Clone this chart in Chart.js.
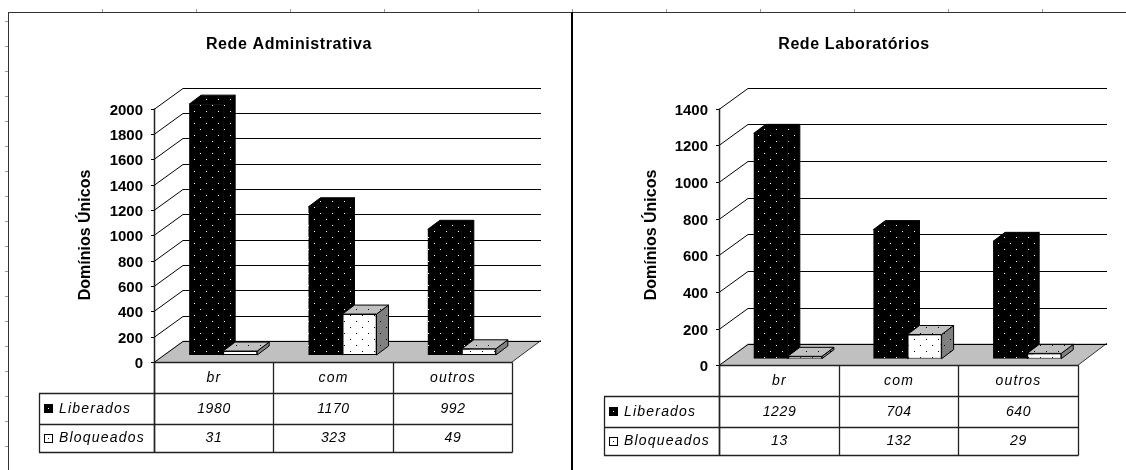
<!DOCTYPE html>
<html lang="pt">
<head>
    <meta charset="UTF-8">
    <title>Rede Administrativa / Rede Laboratórios</title>
    <style>
        body { margin: 0; padding: 0; background: #fff; }
        canvas { position: absolute; left: 0; top: 0; filter: blur(0.3px); }
    </style>
</head>
<body>
    <canvas id="adminChart" width="1126" height="470"></canvas>
    <canvas id="labChart" width="1126" height="470"></canvas>
    <script src="https://cdnjs.cloudflare.com/ajax/libs/Chart.js/4.4.1/chart.umd.min.js"></script>
    <script>
        const categories = ['br', 'com', 'outros'];
        const seriesNames = ['Liberados', 'Bloqueados'];
        const adminLiberados = [1980, 1170, 992];
        const adminBloqueados = [31, 323, 49];
        const labLiberados = [1229, 704, 640];
        const labBloqueados = [13, 132, 29];

        const FONT = '"Liberation Sans", Arial, sans-serif';

        function dots(bg, dot) {
            const c = document.createElement('canvas');
            c.width = 12;
            c.height = 12;
            const x = c.getContext('2d');
            x.fillStyle = bg;
            x.fillRect(0, 0, 12, 12);
            x.fillStyle = dot;
            x.fillRect(2, 3, 1, 1);
            x.fillRect(8, 9, 1, 1);
            return x.createPattern(c, 'repeat');
        }

        const blackDots = dots('#000', '#fff');
        const whiteDots = dots('#fff', '#000');
        const topDots = dots('#c0c0c0', '#000');
        const sideDots = dots('#808080', '#000');

        function poly(ctx, pts, fill, stroke) {
            ctx.beginPath();
            pts.forEach((p, i) => i ? ctx.lineTo(p[0], p[1]) : ctx.moveTo(p[0], p[1]));
            ctx.closePath();
            if (fill) {
                ctx.fillStyle = fill;
                ctx.fill();
            }
            if (stroke) {
                ctx.strokeStyle = stroke;
                ctx.lineWidth = 1;
                ctx.stroke();
            }
        }

        function line(ctx, x1, y1, x2, y2, color, width) {
            ctx.strokeStyle = color || '#000';
            ctx.lineWidth = width || 1;
            ctx.beginPath();
            ctx.moveTo(x1, y1);
            ctx.lineTo(x2, y2);
            ctx.stroke();
        }

        // sheet frame behind the charts, with the stray cell marks
        const framePlugin = {
            id: 'frame',
            beforeDraw(chart) {
                const ctx = chart.ctx;
                ctx.save();
                ctx.fillStyle = '#333';
                ctx.fillRect(8, 12, 1118, 1);
                ctx.fillRect(8, 12, 1, 458);
                ctx.fillStyle = '#000';
                ctx.fillRect(571, 12, 2, 458);
                ctx.fillStyle = '#999';
                for (let x = 102; x < 1126; x += 94) ctx.fillRect(x, 9, 1, 3);
                for (let y = 21; y < 470; y += 25) ctx.fillRect(5, y, 3, 1);
                ctx.restore();
            }
        };

        // walls, floor, axis text and data table are drawn around the bar plane
        const scenePlugin = {
            id: 'scene',
            beforeDatasetsDraw(chart, args, o) {
                const ctx = chart.ctx;
                const y = chart.scales.y;
                const x0 = o.axisX, x1 = o.axisX + o.cell * 3;
                const base = y.getPixelForValue(0) + o.plane;
                ctx.save();

                // floor
                poly(ctx, [[x0, base], [x0 + o.wallX, base - o.wallY], [x1 + o.wallX, base - o.wallY], [x1, base]], '#c0c0c0');
                line(ctx, x1, base, x1 + o.wallX, base - o.wallY, '#333');

                // gridlines on both planes, with ticks and labels
                ctx.font = 'bold 15px ' + FONT;
                ctx.textAlign = 'right';
                ctx.textBaseline = 'middle';
                y.ticks.forEach(t => {
                    const ty = Math.round(y.getPixelForValue(t.value) + o.plane) + 0.5;
                    const by = Math.round(ty - o.wallY) + 0.5;
                    line(ctx, x0 - 3, ty, x0, ty);
                    line(ctx, x0, ty, x0 + o.wallX, by);
                    line(ctx, x0 + o.wallX, by, x1 + o.wallX, by);
                    ctx.fillStyle = '#000';
                    ctx.fillText(String(t.value), x0 - 11, ty + 1);
                });
                line(ctx, x0 + 0.5, y.getPixelForValue(y.max) + o.plane, x0 + 0.5, o.rows[3], '#222', 1.5);

                // top and side of each bar, back to front
                categories.forEach((c, j) => {
                    chart.data.datasets.forEach((ds, i) => {
                        const b = chart.getDatasetMeta(i).data[j];
                        const l = b.x - b.width / 2, r = b.x + b.width / 2;
                        const top = b.y, bot = b.base;
                        const dark = i === 0;
                        poly(ctx, [[r, top], [r + o.depthX, top - o.depthY], [r + o.depthX, bot - o.depthY], [r, bot]],
                            dark ? blackDots : sideDots, '#000');
                        poly(ctx, [[l, top], [l + o.depthX, top - o.depthY], [r + o.depthX, top - o.depthY], [r, top]],
                            dark ? blackDots : topDots, '#000');
                    });
                });
                ctx.restore();
            },
            afterDraw(chart, args, o) {
                const ctx = chart.ctx;
                const x0 = o.axisX;
                const cols = [x0, x0 + o.cell, x0 + o.cell * 2, x0 + o.cell * 3].map(v => Math.round(v) + 0.5);
                const rows = o.rows.map(v => Math.round(v) + 0.5);
                ctx.save();

                // title and axis title
                ctx.fillStyle = '#000';
                ctx.textAlign = 'center';
                ctx.textBaseline = 'middle';
                ctx.font = 'bold 16px ' + FONT;
                ctx.letterSpacing = '0.6px';
                ctx.fillText(o.title, o.titleX, 45);
                ctx.letterSpacing = '0px';
                ctx.save();
                ctx.translate(o.yTitleX, o.yTitleY);
                ctx.rotate(-Math.PI / 2);
                ctx.fillText('Domínios Únicos', 0, 0);
                ctx.restore();

                // data table
                rows.forEach((ry, k) => line(ctx, k === 0 ? cols[0] : o.tableLeft, ry, cols[3], ry, '#222', 1.3));
                cols.forEach(cx => line(ctx, cx, rows[0], cx, rows[3], '#222', 1.3));
                line(ctx, o.tableLeft + 0.5, rows[1], o.tableLeft + 0.5, rows[3], '#222', 1.3);

                ctx.font = 'italic 14px ' + FONT;
                categories.forEach((c, j) => {
                    const cx = (cols[j] + cols[j + 1]) / 2;
                    ctx.fillStyle = '#000';
                    ctx.letterSpacing = '1.2px';
                    ctx.fillText(c, cx, (rows[0] + rows[1]) / 2);
                    ctx.letterSpacing = '0.6px';
                    chart.data.datasets.forEach((ds, i) => {
                        ctx.fillText(String(ds.data[j]), cx, (rows[i + 1] + rows[i + 2]) / 2);
                    });
                });
                ctx.textAlign = 'left';
                seriesNames.forEach((name, i) => {
                    const cy = (rows[i + 1] + rows[i + 2]) / 2;
                    const kx = o.tableLeft + 5;
                    ctx.fillStyle = i === 0 ? '#000' : '#fff';
                    ctx.fillRect(kx, Math.round(cy) - 5, 9, 9);
                    ctx.strokeStyle = '#000';
                    ctx.lineWidth = 1;
                    ctx.strokeRect(kx + 0.5, Math.round(cy) - 4.5, 8, 8);
                    ctx.fillStyle = i === 0 ? '#fff' : '#000';
                    ctx.fillRect(kx + 4, Math.round(cy) - 1, 1, 1);
                    ctx.fillStyle = '#000';
                    ctx.letterSpacing = '1.2px';
                    ctx.fillText(name, o.tableLeft + 20, cy);
                });
                ctx.restore();
            }
        };

        function makeChart(id, liberados, bloqueados, maxY, scene, extra) {
            const left = scene.axisX + scene.planeX;
            const right = left + scene.cell * 3;
            return new Chart(document.getElementById(id), {
                type: 'bar',
                data: {
                    labels: categories,
                    datasets: [{
                        label: seriesNames[0],
                        data: liberados,
                        backgroundColor: blackDots,
                        borderWidth: 0
                    }, {
                        label: seriesNames[1],
                        data: bloqueados,
                        backgroundColor: whiteDots,
                        borderColor: '#000',
                        borderWidth: 1,
                        borderSkipped: false
                    }]
                },
                options: {
                    responsive: false,
                    animation: false,
                    layout: { padding: { left: left, right: 1126 - right, top: scene.areaTop, bottom: 470 - scene.areaBottom } },
                    datasets: { bar: { categoryPercentage: 0.57, barPercentage: 1 } },
                    scales: {
                        x: { display: false },
                        y: { display: false, min: 0, max: maxY, ticks: { stepSize: 200 } }
                    },
                    plugins: { legend: { display: false }, tooltip: { enabled: false }, scene: scene }
                },
                plugins: extra ? [extra, scenePlugin] : [scenePlugin]
            });
        }

        makeChart('adminChart', adminLiberados, adminBloqueados, 2000, {
            title: 'Rede Administrativa', titleX: 289, yTitleX: 86, yTitleY: 235,
            axisX: 154, cell: 119.33, planeX: 9.5, plane: 7,
            wallX: 29, wallY: 21.5, depthX: 12, depthY: 9,
            areaTop: 101.6, areaBottom: 355,
            tableLeft: 39, rows: [362, 393, 424, 452]
        }, framePlugin);

        makeChart('labChart', labLiberados, labBloqueados, 1400, {
            title: 'Rede Laboratórios', titleX: 854, yTitleX: 652, yTitleY: 235,
            axisX: 719, cell: 119.67, planeX: 9, plane: 6.5,
            wallX: 29, wallY: 22, depthX: 12, depthY: 9,
            areaTop: 102, areaBottom: 358.7,
            tableLeft: 604, rows: [365, 396, 427, 455]
        });
    </script>
</body>
</html>
